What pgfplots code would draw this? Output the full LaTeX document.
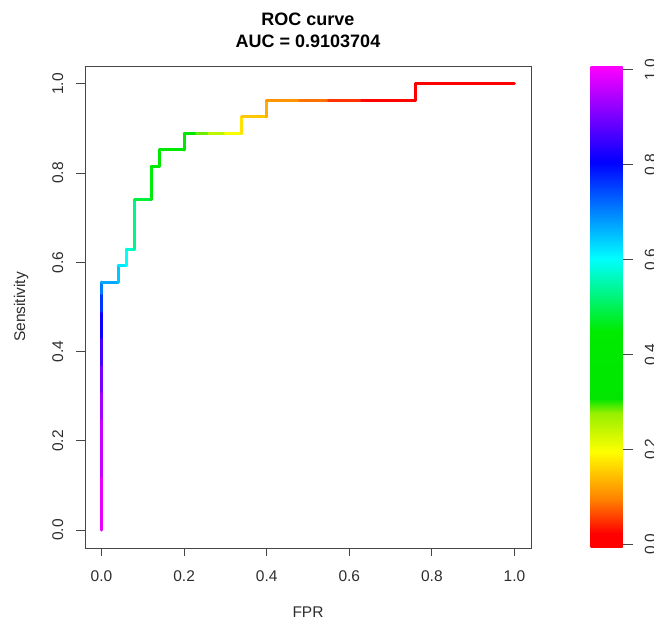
\documentclass[border=0pt]{standalone}
\usepackage{fontspec}
\setmainfont{Liberation Sans}
\setsansfont{Liberation Sans}
\usepackage{pgfplots}
\pgfplotsset{compat=1.18}

\definecolor{axisgray}{RGB}{70,70,70}
\definecolor{textgray}{RGB}{45,45,45}

% rainbow map as seen on the colour bar (red at 0, magenta at 1)
\pgfplotsset{
  colormap={rocr}{rgb255(0pt)=(255,0,0); rgb255(3pt)=(255,0,0); rgb255(10pt)=(255,128,0);
    rgb255(20pt)=(255,255,0); rgb255(28pt)=(150,240,0); rgb255(31pt)=(0,230,0);
    rgb255(45pt)=(0,235,0); rgb255(60pt)=(0,255,255); rgb255(80pt)=(0,0,255);
    rgb255(100pt)=(255,0,255)}
}

% FPR, sensitivity, cutoff (cutoff read from the line colour)
\pgfplotstableread{
x     y       t
0     0       1.00
0     0.12    0.98
0     0.25    0.95
0     0.31    0.92
0     0.37    0.88
0     0.43    0.84
0     0.49    0.79
0     0.53    0.73
0     0.5556  0.68
0.04  0.5556  0.66
0.04  0.5926  0.63
0.06  0.5926  0.61
0.06  0.6296  0.59
0.08  0.6296  0.56
0.08  0.7407  0.50
0.12  0.7407  0.47
0.12  0.8148  0.44
0.14  0.8148  0.42
0.14  0.8519  0.40
0.20  0.8519  0.36
0.20  0.8889  0.33
0.23  0.8889  0.30
0.26  0.8889  0.27
0.30  0.8889  0.22
0.34  0.8889  0.18
0.34  0.9259  0.16
0.40  0.9259  0.14
0.40  0.9630  0.12
0.48  0.9630  0.10
0.55  0.9630  0.07
0.63  0.9630  0.03
0.76  0.9630  0.02
0.76  1       0.01
1     1       0.00
}\roc

\begin{document}
\begin{tikzpicture}
\path[use as bounding box] (0pt,0pt) rectangle (654pt,623pt);
\begin{axis}[
  at={(85pt,75pt)}, anchor=south west,
  scale only axis, width=446pt, height=482pt,
  xmin=-0.04, xmax=1.04, ymin=-0.04, ymax=1.04,
  axis line style={axisgray, line width=0.9pt},
  tick pos=left, tick align=outside,
  major tick length=8.5pt,
  tick style={axisgray, line width=0.9pt},
  xtick={0,0.2,0.4,0.6,0.8,1},
  xticklabels={0.0,0.2,0.4,0.6,0.8,1.0},
  ytick={0,0.2,0.4,0.6,0.8,1},
  yticklabels={0.0,0.2,0.4,0.6,0.8,1.0},
  ticklabel style={font=\fontsize{15.5}{18}\selectfont, text=textgray},
  xticklabel style={anchor=north, inner sep=0pt, yshift=-14pt},
  yticklabel style={xshift=-13pt, rotate=90, anchor=south, inner sep=0pt},
  xlabel={FPR}, ylabel={Sensitivity},
  label style={font=\fontsize{15.5}{18}\selectfont, text=textgray},
  xlabel style={at={(axis description cs:0.5,-0.133)}, anchor=center},
  ylabel style={at={(axis description cs:-0.1435,0.5)}, anchor=center},
  title={ROC curve\\AUC = 0.9103704},
  title style={at={(axis description cs:0.5,1.0612)}, anchor=center, align=center,
    font=\bfseries\fontsize{18}{21.5}\selectfont},
  colormap name=rocr,
  point meta min=-0.008, point meta max=1.007,
  colorbar,
  colorbar/width=32pt,
  colorbar style={
    at={(parent axis.north east)}, anchor=north west, xshift=51pt,
    scale only axis, width=32pt,
    xmin=0, xmax=1, enlargelimits=false,
    axis line style={draw=none},
    ytick={0,0.2,0.4,0.6,0.8,1},
    yticklabels={0.0,0.2,0.4,0.6,0.8,1.0},
    ytick pos=right, yticklabel pos=right,
    tick align=outside, major tick length=10pt,
    tick style={axisgray, line width=0.9pt},
    yticklabel style={font=\fontsize{15.5}{18}\selectfont, text=textgray,
      xshift=12pt, rotate=90, anchor=north, inner sep=0pt},
  },
]
\addplot[mesh, point meta=explicit, line width=3pt, line cap=round, line join=round]
  table[x=x, y=y, meta=t] {\roc};
\end{axis}
\end{tikzpicture}
\end{document}
